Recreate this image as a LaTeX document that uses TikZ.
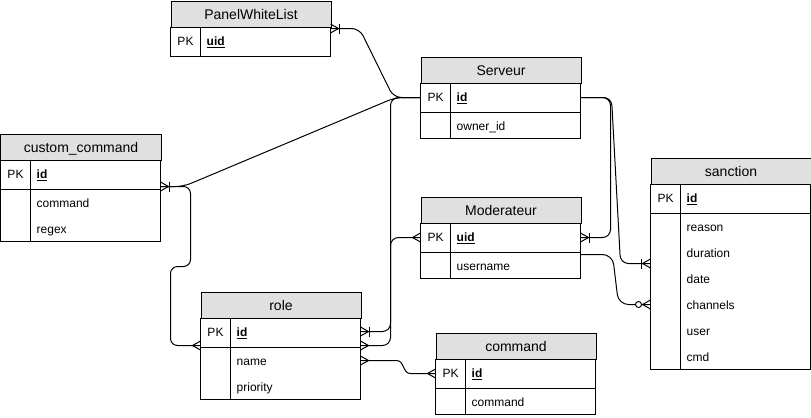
\documentclass[tikz,border=0pt]{standalone}
\usepackage{fontspec}
\setmainfont{Liberation Sans}
\usetikzlibrary{calc}
\definecolor{hdrgray}{HTML}{E0E0E0}
\tikzset{
  tabline/.style={draw=black, line width=1bp},
  hdrbox/.style={draw=black, line width=1bp, fill=hdrgray, minimum width=160bp, minimum height=26bp, inner sep=0pt, text height=10bp, text depth=0pt, font=\fontsize{14.05}{16}\selectfont, anchor=north west},
  pkrowbox/.style={minimum width=160bp, minimum height=30bp, inner sep=0pt, anchor=north west},
  pklbl/.style={font=\fontsize{12.045}{14}\selectfont, inner sep=0pt, anchor=base},
  fldlbl/.style={font=\fontsize{12.045}{14}\selectfont, inner sep=0pt, anchor=base west},
  conn/.style={draw=black, line width=1bp, rounded corners=8bp},
  markline/.style={draw=black, line width=1bp},
}
\newcommand{\ertable}[6]{%
  \pgfmathsetmacro{\tabH}{56+26*#6}
  \node[hdrbox] (#1) at (#2,#3) {#4};
  \node[pkrowbox] (#1-pk) at (#2,#3+26) {};
  \draw[tabline] (#2,#3+26) -- (#2,#3+\tabH) -- (#2+160,#3+\tabH) -- (#2+160,#3+26);
  \ifnum#6>0 \draw[tabline] (#2,#3+56) -- (#2+160,#3+56);\fi
  \draw[tabline] (#2+30,#3+26) -- (#2+30,#3+\tabH);
  \node[pklbl] (#1-pkl) at (#2+15,#3+45.3) {PK};
  \node[fldlbl] (#1-pkf) at (#2+36,#3+45.3) {\textbf{\underline{#5}}};
}
\newcommand{\erfield}[5]{%
  \node[fldlbl] (#1) at (#2+36,#3+74+26*#4) {#5};
}
\newcommand{\ercrow}[2]{%
  \draw[markline] ($(#1)+(#2*8,0)$) -- ($(#1)+(0,-4.5)$) ($(#1)+(#2*8,0)$) -- ($(#1)+(0,4.5)$);
}
\newcommand{\erbar}[2]{\draw[markline] ($(#1)+(#2*9,-5)$) -- ($(#1)+(#2*9,5)$);}
\newcommand{\ercirc}[2]{\draw[markline, fill=white] ($(#1)+(#2*12,0)$) circle[radius=3bp];}
\begin{document}
\begin{tikzpicture}[x=1bp,y=-1bp]
\fill[white] (0,0) rectangle (811,417);
\useasboundingbox (0,0) rectangle (811,417);
\begin{scope}[shift={(0.5,0.5)}]
% tables
\ertable{pwl}{170}{0}{PanelWhiteList}{uid}{0}
\ertable{srv}{420}{56}{Serveur}{id}{1}
\erfield{srv-f0}{420}{56}{0}{owner\_id}
\ertable{cc}{0}{133}{custom\_command}{id}{2}
\erfield{cc-f0}{0}{133}{0}{command}
\erfield{cc-f1}{0}{133}{1}{regex}
\ertable{mod}{420}{196}{Moderateur}{uid}{1}
\erfield{mod-f0}{420}{196}{0}{username}
\ertable{san}{650}{157}{sanction}{id}{6}
\erfield{san-f0}{650}{157}{0}{reason}
\erfield{san-f1}{650}{157}{1}{duration}
\erfield{san-f2}{650}{157}{2}{date}
\erfield{san-f3}{650}{157}{3}{channels}
\erfield{san-f4}{650}{157}{4}{user}
\erfield{san-f5}{650}{157}{5}{cmd}
\ertable{role}{200}{291}{role}{id}{2}
\erfield{role-f0}{200}{291}{0}{name}
\erfield{role-f1}{200}{291}{1}{priority}
\ertable{cmd}{435}{332}{command}{id}{1}
\erfield{cmd-f0}{435}{332}{0}{command}

% connector end points
\coordinate (pwlR) at (330,28);
\coordinate (srvL) at (420,97);
\coordinate (srvR) at (580,97);
\coordinate (ccR) at (160,186);
\coordinate (roleR1) at (360,331);
\coordinate (roleR2) at (360,345);
\coordinate (roleR3) at (360,360);
\coordinate (roleL) at (200,345);
\coordinate (modL) at (420,237);
\coordinate (modR1) at (580,237);
\coordinate (modR2) at (580,254);
\coordinate (cmdL) at (435,373);
\coordinate (sanL1) at (650,263);
\coordinate (sanL2) at (650,304);

% connectors
\draw[conn] (pwlR) -- (359,28) -- (393,97) -- (srvL);
\draw[conn] (ccR) -- (183,186) -- (395,97) -- (srvL);
\draw[conn] (srvL) -- (390,97) -- (390,331) -- (roleR1);
\draw[conn] (modL) -- (390,237) -- (390,345) -- (roleR2);
\draw[conn, rounded corners=7bp] (roleL) -- (170,345) -- (170,266) -- (190,266) -- (190,186) -- (ccR);
\draw[conn] (roleR3) -- (388,360) .. controls (404,360) and (402,373) .. (418,373) -- (cmdL);
\draw[conn] (srvR) -- (610,97) -- (610,237) -- (modR1);
\draw[conn] (srvR) -- (611,97) -- (620,263) -- (sanL1);
\draw[conn, rounded corners=10bp] (modR2) -- (612,254) -- (618,304) -- (sanL2);

% markers
\ercrow{pwlR}{1}\erbar{pwlR}{1}
\ercrow{ccR}{1}\erbar{ccR}{1}
\ercrow{roleR1}{1}\erbar{roleR1}{1}
\ercrow{roleR2}{1}
\ercrow{roleR3}{1}
\ercrow{roleL}{-1}
\ercrow{modL}{-1}
\ercrow{modR1}{1}\erbar{modR1}{1}
\ercrow{cmdL}{-1}
\ercrow{sanL1}{-1}\erbar{sanL1}{-1}
\ercrow{sanL2}{-1}\ercirc{sanL2}{-1}
\end{scope}
\end{tikzpicture}
\end{document}
